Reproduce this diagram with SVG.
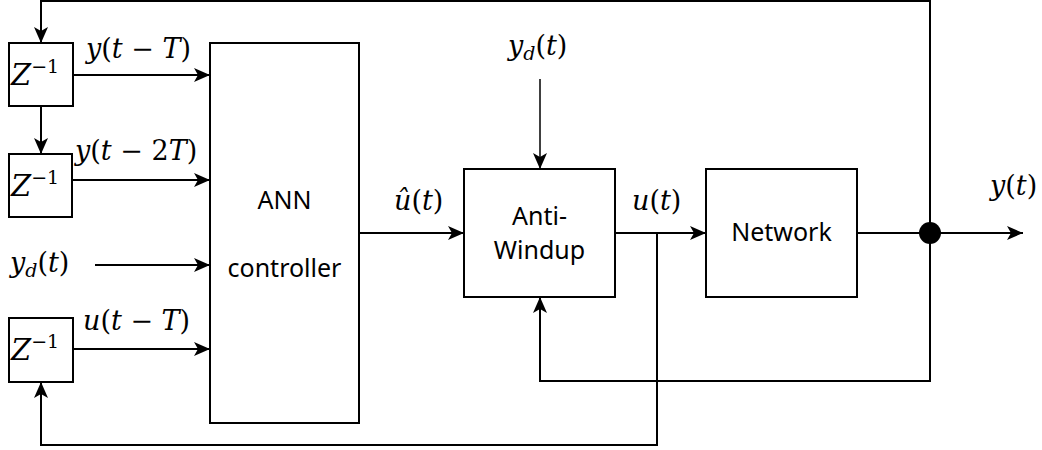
<svg xmlns="http://www.w3.org/2000/svg" width="1042" height="450" viewBox="0 0 1042 450">
<style>
.box{fill:#fff;stroke:#000;stroke-width:2}
.ln{fill:none;stroke:#000;stroke-width:2}
.thin{fill:none;stroke:#000;stroke-width:1.5}
.lbl{font-family:"Noto Sans","Open Sans",sans-serif;font-size:25px;fill:#000;text-anchor:middle}
.m{font-family:"DejaVu Serif","Liberation Serif",serif;font-size:27px;fill:#000}
.i{font-style:italic}
.z{font-size:29px}
.sup{font-size:19px}
.sub{font-size:19px}
</style>
<defs>
<marker id="arr" markerUnits="userSpaceOnUse" markerWidth="18" markerHeight="16" refX="16" refY="8" orient="auto">
<path d="M0,1 L16,8 L0,15 L4,8 z" fill="#000"/>
</marker>
</defs>
<rect width="1042" height="450" fill="#fff"/>
<g id="connectors">
<polyline class="ln" points="930,233 930,1 41,1 41,43" marker-end="url(#arr)"/>
<line class="ln" x1="41" y1="106" x2="41" y2="154" marker-end="url(#arr)"/>
<line class="ln" x1="73" y1="75" x2="210" y2="75" marker-end="url(#arr)"/>
<line class="ln" x1="73" y1="180" x2="210" y2="180" marker-end="url(#arr)"/>
<line class="ln" x1="95" y1="265" x2="210" y2="265" marker-end="url(#arr)"/>
<line class="ln" x1="73" y1="349" x2="210" y2="349" marker-end="url(#arr)"/>
<line class="ln" x1="359" y1="233" x2="464" y2="233" marker-end="url(#arr)"/>
<line class="ln" x1="615" y1="233" x2="706" y2="233" marker-end="url(#arr)"/>
<polyline class="ln" points="657,233 657,445 41,445 41,382" marker-end="url(#arr)"/>
<line class="ln" x1="857" y1="233" x2="1023" y2="233" marker-end="url(#arr)"/>
<polyline class="ln" points="930,233 930,381 540,381 540,297" marker-end="url(#arr)"/>
<line class="thin" x1="540" y1="79" x2="540" y2="169" marker-end="url(#arr)"/>
<circle cx="930" cy="233" r="11" fill="#000"/>
</g>
<g id="z1">
<rect class="box" x="9" y="43" width="64" height="63"/>
<text class="m" x="11" y="85"><tspan class="i z">Z</tspan><tspan class="sup" dy="-12">−1</tspan></text>
</g>
<g id="z2">
<rect class="box" x="9" y="154" width="63" height="63"/>
<text class="m" x="11" y="196"><tspan class="i z">Z</tspan><tspan class="sup" dy="-12">−1</tspan></text>
</g>
<g id="z3">
<rect class="box" x="9" y="318" width="64" height="64"/>
<text class="m" x="11" y="360"><tspan class="i z">Z</tspan><tspan class="sup" dy="-12">−1</tspan></text>
</g>
<g id="ann">
<rect class="box" x="210" y="43" width="149" height="380"/>
<text class="lbl" x="284.5" y="209">ANN</text>
<text class="lbl" x="284.5" y="277">controller</text>
</g>
<g id="antiwindup">
<rect class="box" x="464" y="169" width="151" height="128"/>
<text class="lbl" x="539.5" y="225">Anti-</text>
<text class="lbl" x="539.5" y="259">Windup</text>
</g>
<g id="network">
<rect class="box" x="706" y="169" width="151" height="128"/>
<text class="lbl" x="781.5" y="241">Network</text>
</g>
<g id="labels">
<text class="m" x="86" y="58"><tspan class="i">y</tspan>(<tspan class="i">t</tspan> − <tspan class="i">T</tspan>)</text>
<text class="m" x="75" y="160"><tspan class="i">y</tspan>(<tspan class="i">t</tspan> − 2<tspan class="i">T</tspan>)</text>
<text class="m" x="10" y="272"><tspan class="i">y</tspan><tspan class="i sub" dy="5">d</tspan><tspan dy="-5">(</tspan><tspan class="i">t</tspan>)</text>
<text class="m" x="83" y="330"><tspan class="i">u</tspan>(<tspan class="i">t</tspan> − <tspan class="i">T</tspan>)</text>
<text class="m" x="508" y="55"><tspan class="i">y</tspan><tspan class="i sub" dy="5">d</tspan><tspan dy="-5">(</tspan><tspan class="i">t</tspan>)</text>
<text class="m" x="394" y="210"><tspan class="i">û</tspan>(<tspan class="i">t</tspan>)</text>
<text class="m" x="632" y="210"><tspan class="i">u</tspan>(<tspan class="i">t</tspan>)</text>
<text class="m" x="990" y="195"><tspan class="i">y</tspan>(<tspan class="i">t</tspan>)</text>
</g>
</svg>
